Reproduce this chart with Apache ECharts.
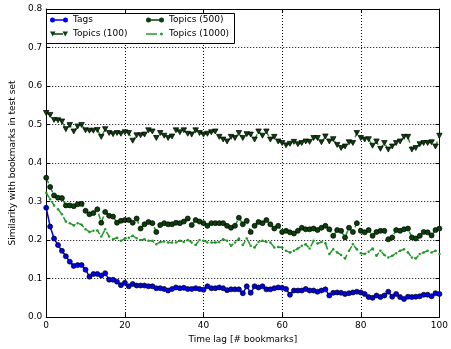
<!DOCTYPE html>
<html>
<head>
<meta charset="utf-8">
<script src="https://cdn.jsdelivr.net/npm/echarts@6/dist/echarts.min.js"></script>
<style>
  html, body { margin: 0; padding: 0; background: #fff; }
  #chart { width: 451px; height: 349px; }
</style>
</head>
<body>
<div id="chart"></div>
<script>
// Time lag in bookmarks (0 .. 100)
const lags = [];
for (let i = 0; i <= 100; i++) lags.push(i);

const tags = [0.284,0.235,0.204,0.187,0.172,0.158,0.144,0.133,0.135,0.135,
  0.123,0.105,0.112,0.112,0.108,0.114,0.097,0.097,0.092,0.083,
  0.089,0.080,0.086,0.082,0.082,0.082,0.080,0.080,0.075,0.075,
  0.073,0.069,0.073,0.077,0.075,0.076,0.073,0.073,0.075,0.073,
  0.071,0.080,0.075,0.075,0.077,0.075,0.070,0.072,0.072,0.072,
  0.062,0.080,0.063,0.080,0.077,0.080,0.072,0.072,0.075,0.077,
  0.076,0.073,0.058,0.069,0.069,0.069,0.073,0.069,0.069,0.066,
  0.069,0.072,0.056,0.063,0.064,0.063,0.060,0.062,0.064,0.066,
  0.064,0.060,0.052,0.050,0.056,0.052,0.056,0.066,0.053,0.060,
  0.052,0.047,0.053,0.052,0.053,0.054,0.058,0.058,0.054,0.062,
  0.060];

const topics100 = [0.530,0.525,0.512,0.511,0.508,0.488,0.499,0.482,0.495,0.499,
  0.485,0.484,0.484,0.486,0.468,0.488,0.478,0.475,0.478,0.476,
  0.480,0.478,0.458,0.472,0.472,0.474,0.485,0.482,0.465,0.478,
  0.471,0.465,0.469,0.485,0.480,0.485,0.476,0.474,0.485,0.478,
  0.474,0.476,0.480,0.482,0.468,0.461,0.456,0.468,0.465,0.478,
  0.465,0.475,0.474,0.461,0.482,0.471,0.482,0.461,0.468,0.456,
  0.452,0.446,0.450,0.455,0.449,0.452,0.456,0.455,0.465,0.465,
  0.454,0.469,0.456,0.462,0.447,0.439,0.443,0.454,0.452,0.478,
  0.465,0.461,0.462,0.445,0.456,0.437,0.452,0.435,0.443,0.452,
  0.456,0.468,0.468,0.435,0.439,0.449,0.452,0.452,0.454,0.443,
  0.471];

const topics500 = [0.362,0.338,0.316,0.310,0.309,0.290,0.290,0.288,0.293,0.294,
  0.276,0.267,0.270,0.280,0.245,0.273,0.263,0.261,0.245,0.250,
  0.252,0.252,0.245,0.256,0.230,0.241,0.247,0.244,0.221,0.239,
  0.244,0.241,0.241,0.245,0.244,0.248,0.256,0.239,0.252,0.248,
  0.244,0.237,0.244,0.244,0.244,0.244,0.237,0.232,0.237,0.258,
  0.241,0.250,0.221,0.237,0.247,0.244,0.252,0.241,0.230,0.237,
  0.221,0.224,0.220,0.217,0.224,0.232,0.228,0.228,0.230,0.226,
  0.232,0.237,0.228,0.211,0.226,0.224,0.207,0.232,0.221,0.244,
  0.224,0.220,0.226,0.211,0.221,0.224,0.224,0.202,0.207,0.226,
  0.224,0.228,0.230,0.207,0.204,0.211,0.221,0.220,0.212,0.226,
  0.230];

const topics1000 = [0.323,0.306,0.290,0.280,0.267,0.248,0.244,0.238,0.244,0.240,
  0.228,0.221,0.224,0.225,0.209,0.228,0.209,0.202,0.206,0.198,
  0.204,0.206,0.211,0.205,0.200,0.202,0.198,0.198,0.189,0.195,
  0.196,0.194,0.194,0.194,0.198,0.195,0.200,0.194,0.187,0.200,
  0.198,0.194,0.194,0.194,0.195,0.202,0.198,0.185,0.194,0.204,
  0.187,0.204,0.185,0.181,0.195,0.198,0.195,0.194,0.181,0.182,
  0.181,0.172,0.168,0.172,0.178,0.185,0.189,0.178,0.198,0.191,
  0.195,0.192,0.164,0.176,0.168,0.161,0.152,0.172,0.189,0.176,
  0.166,0.164,0.170,0.178,0.159,0.172,0.161,0.155,0.159,0.166,
  0.172,0.176,0.168,0.155,0.152,0.164,0.168,0.172,0.168,0.172,
  0.164];

const xTicks = [0, 20, 40, 60, 80, 100];
const yTicks = [0.0, 0.1, 0.2, 0.3, 0.4, 0.5, 0.6, 0.7, 0.8];

const FONT = 'DejaVu Sans';
const BLUE = '#0000f0';
const GREEN = '#22992a';
const DARK = '#0b400b';
const pairs = vals => lags.map((x, i) => [x, vals[i]]);
const triDown = 'path://M0,0 L10,0 L5,9 Z';

// Legend keys in the "marker — marker" style
const keyCircles = 'path://M0,2.5 A2.5,2.5 0 1,1 5,2.5 A2.5,2.5 0 1,1 0,2.5 Z M4,1.8 L14,1.8 L14,3.2 L4,3.2 Z M13,2.5 A2.5,2.5 0 1,1 18,2.5 A2.5,2.5 0 1,1 13,2.5 Z';
const keyTriangles = 'path://M0,0 L5.5,0 L2.75,5 Z M4,1.8 L13,1.8 L13,3.2 L4,3.2 Z M12.5,0 L18,0 L15.25,5 Z';
const keyDots = 'path://M0,1.8 L11,1.8 L11,3.2 L0,3.2 Z M14,2.5 A1.5,1.5 0 1,1 17,2.5 A1.5,1.5 0 1,1 14,2.5 Z M0,0 L0.01,0 Z M18,5 L18.01,5 Z';

const chart = echarts.init(document.getElementById('chart'), null, { renderer: 'canvas' });

const tickStyle = { show: true, inside: true, length: 4, lineStyle: { color: '#000', width: 1 } };
const lineAxis = { show: true, onZero: false, lineStyle: { color: '#000', width: 1 } };
const legendText = { fontFamily: FONT, fontSize: 9, color: '#000', lineHeight: 12 };

chart.setOption({
  animation: false,
  backgroundColor: '#fff',
  grid: { left: 42, right: 9, top: 9, bottom: 31, containLabel: false },
  graphic: [{
    type: 'rect', left: 46, top: 13, z: 5,
    shape: { width: 188, height: 30 },
    style: { fill: '#fff', stroke: '#000', lineWidth: 1 }
  }],
  legend: [
    {
      data: [
        { name: 'Tags', icon: keyCircles, itemStyle: { color: BLUE, borderWidth: 0 } },
        { name: 'Topics (100)', icon: keyTriangles, itemStyle: { color: DARK, borderWidth: 0 } }
      ],
      orient: 'vertical', left: 50, top: 14, z: 6,
      padding: 0, itemGap: 2, itemWidth: 18, itemHeight: 5,
      textStyle: legendText
    },
    {
      data: [
        { name: 'Topics (500)', icon: keyCircles, itemStyle: { color: DARK, borderWidth: 0 } },
        { name: 'Topics (1000)', icon: keyDots, itemStyle: { color: GREEN, borderWidth: 0 } }
      ],
      orient: 'vertical', left: 146, top: 14, z: 6,
      padding: 0, itemGap: 2, itemWidth: 18, itemHeight: 5,
      textStyle: legendText
    }
  ],
  xAxis: [
    {
      type: 'value', min: xTicks[0], max: xTicks[xTicks.length - 1], interval: 20,
      name: 'Time lag [# bookmarks]', nameLocation: 'middle', nameGap: 15,
      nameTextStyle: { fontFamily: FONT, fontSize: 9, color: '#000' },
      axisLine: lineAxis, axisTick: tickStyle,
      axisLabel: { fontFamily: FONT, fontSize: 9, color: '#000', margin: 4 },
      splitLine: { show: true, lineStyle: { color: '#000', width: 1, type: [1, 2] } }
    },
    {
      type: 'value', position: 'top', min: 0, max: 100, interval: 20,
      axisLine: lineAxis, axisTick: tickStyle, axisLabel: { show: false }, splitLine: { show: false }
    }
  ],
  yAxis: [
    {
      type: 'value', min: yTicks[0], max: yTicks[yTicks.length - 1], interval: 0.1,
      name: 'Similarity with bookmarks in test set', nameLocation: 'middle', nameGap: 27,
      nameTextStyle: { fontFamily: FONT, fontSize: 9, color: '#000' },
      axisLine: lineAxis, axisTick: tickStyle,
      axisLabel: { fontFamily: FONT, fontSize: 9, color: '#000', margin: 4, formatter: v => v.toFixed(1) },
      splitLine: { show: true, lineStyle: { color: '#000', width: 1, type: [1, 2] } }
    },
    {
      type: 'value', position: 'right', min: 0, max: 0.8, interval: 0.1,
      axisLine: lineAxis, axisTick: tickStyle, axisLabel: { show: false }, splitLine: { show: false }
    }
  ],
  series: [
    {
      name: 'Tags', type: 'line', data: pairs(tags), showAllSymbol: true,
      symbol: 'circle', symbolSize: 5,
      itemStyle: { color: BLUE, borderColor: '#000', borderWidth: 0.7 },
      lineStyle: { color: BLUE, width: 1.5 }
    },
    {
      name: 'Topics (100)', type: 'line', data: pairs(topics100), showAllSymbol: true,
      symbol: triDown, symbolSize: [5.5, 5],
      itemStyle: { color: DARK, borderColor: '#000', borderWidth: 0.7 },
      lineStyle: { color: GREEN, width: 1.5, type: [6, 4] }
    },
    {
      name: 'Topics (500)', type: 'line', data: pairs(topics500), showAllSymbol: true,
      symbol: 'circle', symbolSize: 5,
      itemStyle: { color: DARK, borderColor: '#000', borderWidth: 0.7 },
      lineStyle: { color: GREEN, width: 1.5, type: [6, 4] }
    },
    {
      name: 'Topics (1000)', type: 'line', data: pairs(topics1000), showAllSymbol: true,
      symbol: 'circle', symbolSize: 2.5,
      itemStyle: { color: GREEN, borderColor: GREEN, borderWidth: 0 },
      lineStyle: { color: GREEN, width: 1.5, type: [6, 4] }
    }
  ]
});
</script>
</body>
</html>
